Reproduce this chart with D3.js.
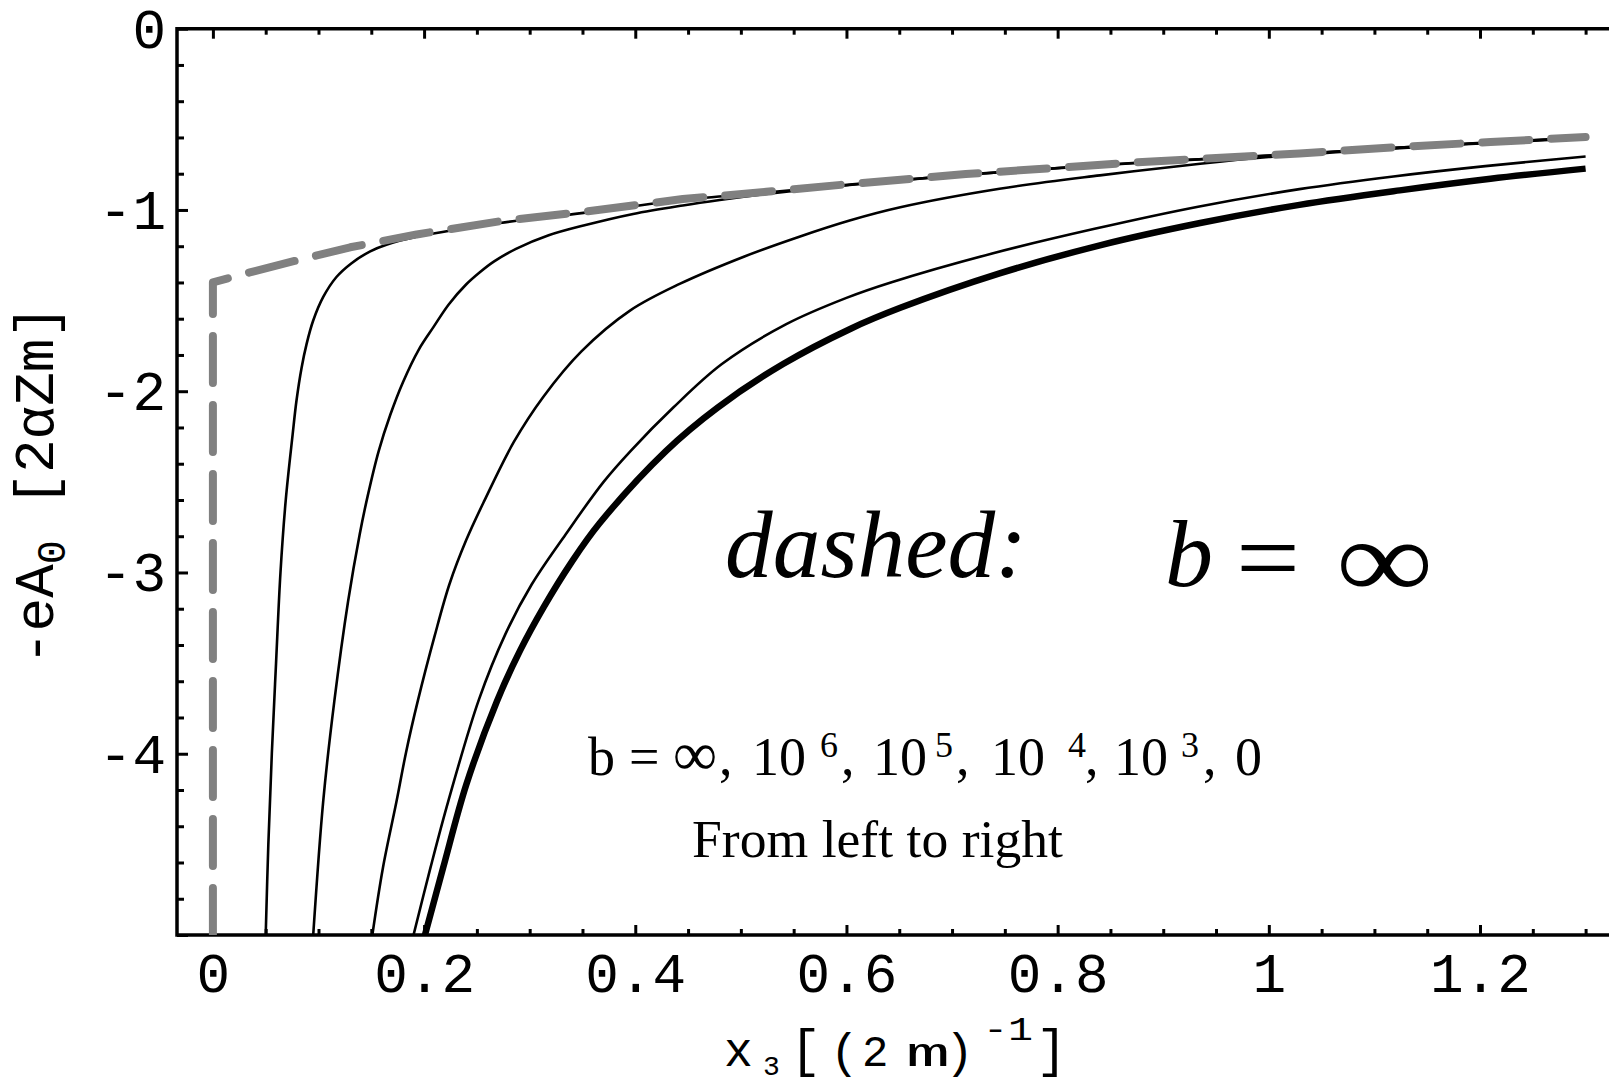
<!DOCTYPE html>
<html lang="en">
<head>
<meta charset="UTF-8">
<title>-eA0 vs x3</title>
<script src="https://d3js.org/d3.v7.min.js"></script>
<style>
  body { margin: 0; background: #fff; }
  svg { display: block; background: #fff; }
  .mono { font-family: "Liberation Mono", "Courier New", monospace; fill: #000; }
  .serif { font-family: "Liberation Serif", "Times New Roman", serif; fill: #000; }
</style>
</head>
<body>
<svg id="chart" width="1609" height="1084"></svg>
<script>
// tick values and labels
const xMajor = [0, 0.2, 0.4, 0.6, 0.8, 1, 1.2];
const xMajorLabels = ["0", "0.2", "0.4", "0.6", "0.8", "1", "1.2"];
const xMinor = [0.05, 0.1, 0.15, 0.25, 0.3, 0.35, 0.45, 0.5, 0.55, 0.65, 0.7, 0.75,
                0.85, 0.9, 0.95, 1.05, 1.1, 1.15, 1.25, 1.3];
const yMajor = [0, -1, -2, -3, -4, -5];
const yMajorLabels = ["0", "-1", "-2", "-3", "-4", ""];
const yMinor = [-0.2, -0.4, -0.6, -0.8, -1.2, -1.4, -1.6, -1.8, -2.2, -2.4, -2.6, -2.8,
                -3.2, -3.4, -3.6, -3.8, -4.2, -4.4, -4.6, -4.8];

// curves, [x3, -eA0]
const curveInf = [[0, -5], [0, -1.40], [0.035, -1.344], [0.079, -1.279], [0.13, -1.206],
  [0.193, -1.135], [0.272, -1.062], [0.351, -1.010], [0.445, -0.940], [0.524, -0.900],
  [0.603, -0.857], [0.713, -0.802], [0.871, -0.738], [1.029, -0.688], [1.124, -0.652],
  [1.21, -0.625], [1.30, -0.598]];
const curve1e6 = [[0.050, -5.0], [0.0525, -4.5], [0.0558, -4.0], [0.0598, -3.5], [0.0640, -3.0],
  [0.0690, -2.6], [0.0755, -2.24], [0.0792, -2.05], [0.084, -1.87], [0.0887, -1.74],
  [0.095, -1.61], [0.1045, -1.48], [0.117, -1.37], [0.131, -1.295], [0.149, -1.228],
  [0.165, -1.19], [0.193, -1.148], [0.272, -1.072], [0.351, -1.016], [0.445, -0.945],
  [0.524, -0.904], [0.603, -0.86], [0.713, -0.805], [0.871, -0.741], [1.029, -0.69],
  [1.124, -0.655], [1.21, -0.627], [1.30, -0.600]];
const curve1e5 = [[0.095, -5.0], [0.1045, -4.26], [0.1150, -3.71], [0.128, -3.16], [0.139, -2.79],
  [0.1465, -2.58], [0.157, -2.33], [0.168, -2.13], [0.180, -1.95], [0.195, -1.77],
  [0.209, -1.645], [0.2235, -1.52], [0.240, -1.41], [0.2525, -1.345], [0.266, -1.285],
  [0.287, -1.215], [0.318, -1.14], [0.351, -1.086], [0.398, -1.022], [0.445, -0.975],
  [0.48, -0.945], [0.524, -0.912], [0.603, -0.862], [0.713, -0.806], [0.871, -0.742],
  [1.029, -0.691], [1.124, -0.656], [1.21, -0.628], [1.30, -0.601]];
const curve1e4 = [[0.151, -5.0], [0.161, -4.63], [0.174, -4.26], [0.183, -3.99], [0.194, -3.71],
  [0.210, -3.35], [0.224, -3.065], [0.240, -2.82], [0.257, -2.605], [0.285, -2.28],
  [0.313, -2.03], [0.349, -1.78], [0.395, -1.555], [0.442, -1.408], [0.504, -1.255],
  [0.554, -1.15], [0.603, -1.058], [0.651, -0.985], [0.745, -0.883], [0.840, -0.809],
  [0.935, -0.745], [1.0, -0.708], [1.06, -0.683], [1.124, -0.659], [1.21, -0.630], [1.30, -0.603]];
const curve1e3 = [[0.190, -5.0], [0.206, -4.63], [0.223, -4.26], [0.252, -3.70], [0.277, -3.34],
  [0.302, -3.065], [0.334, -2.79], [0.370, -2.50], [0.3955, -2.33], [0.436, -2.09],
  [0.482, -1.85], [0.543, -1.63], [0.600, -1.485], [0.642, -1.40], [0.738, -1.24],
  [0.835, -1.104], [0.933, -0.982], [1.029, -0.885], [1.118, -0.815], [1.205, -0.758], [1.30, -0.705]];
const curve0 = [[0.2008, -5.0], [0.218, -4.63], [0.240, -4.17], [0.269, -3.71], [0.291, -3.43],
  [0.313, -3.194], [0.340, -2.94], [0.366, -2.73], [0.429, -2.33], [0.478, -2.09],
  [0.540, -1.85], [0.604, -1.655], [0.651, -1.54], [0.745, -1.35], [0.840, -1.195],
  [0.935, -1.072], [1.029, -0.972], [1.124, -0.892], [1.21, -0.828], [1.30, -0.772]];

const svg = d3.select("#chart");
const plotLeft = 177, plotTop = 28.7, plotBottom = 935, plotRight = 1612;

const x = d3.scaleLinear().domain([-0.034, 1.325]).range([plotLeft, plotRight]);
const y = d3.scaleLinear().domain([-5, 0]).range([plotBottom, plotTop]);

svg.append("clipPath").attr("id", "plot-clip")
  .append("rect")
  .attr("x", plotLeft).attr("y", plotTop)
  .attr("width", plotRight - plotLeft).attr("height", plotBottom - plotTop);

// axes: ticks point inward, like a Mathematica frame
function styleAxis(g) {
  g.select(".domain").remove();
  g.selectAll(".tick line").attr("stroke", "#000").attr("stroke-width", 3);
}

svg.append("g")
  .attr("transform", `translate(0,${plotBottom})`)
  .call(d3.axisBottom(x).tickValues(xMajor).tickSize(-10).tickFormat((d, i) => xMajorLabels[i]))
  .call(styleAxis)
  .call(g => g.selectAll(".tick text")
    .attr("class", "mono")
    .attr("font-size", 56)
    .attr("y", 57).attr("dy", null));

svg.append("g")
  .attr("transform", `translate(0,${plotBottom})`)
  .call(d3.axisBottom(x).tickValues(xMinor).tickSize(-6).tickFormat(""))
  .call(styleAxis);

svg.append("g")
  .attr("transform", `translate(0,${plotTop})`)
  .call(d3.axisTop(x).tickValues(xMajor).tickSize(-10).tickFormat(""))
  .call(styleAxis);

svg.append("g")
  .attr("transform", `translate(0,${plotTop})`)
  .call(d3.axisTop(x).tickValues(xMinor).tickSize(-6).tickFormat(""))
  .call(styleAxis);

svg.append("g")
  .attr("transform", `translate(${plotLeft},0)`)
  .call(d3.axisLeft(y).tickValues(yMajor).tickSize(-11).tickPadding(11).tickFormat((d, i) => yMajorLabels[i]))
  .call(styleAxis)
  .call(g => g.selectAll(".tick text")
    .attr("class", "mono")
    .attr("font-size", 56)
    .attr("dy", "0.33em"));

svg.append("g")
  .attr("transform", `translate(${plotLeft},0)`)
  .call(d3.axisLeft(y).tickValues(yMinor).tickSize(-7).tickFormat(""))
  .call(styleAxis);

// frame (right side lies past the picture edge)
svg.append("path")
  .attr("d", `M${plotRight},${plotTop}H${plotLeft}V${plotBottom}H${plotRight}`)
  .attr("fill", "none")
  .attr("stroke", "#000")
  .attr("stroke-width", 3.5);

// curves
const line = d3.line()
  .x(d => x(d[0]))
  .y(d => y(d[1]))
  .curve(d3.curveCatmullRom.alpha(0.5));

const plot = svg.append("g").attr("clip-path", "url(#plot-clip)");

[curve1e6, curve1e5, curve1e4, curve1e3].forEach(c => {
  plot.append("path")
    .attr("d", line(c))
    .attr("fill", "none")
    .attr("stroke", "#000")
    .attr("stroke-width", 2.6);
});

plot.append("path")
  .attr("d", line(curve0))
  .attr("fill", "none")
  .attr("stroke", "#000")
  .attr("stroke-width", 6.5);

plot.append("path")
  .attr("d", d3.line().x(d => x(d[0])).y(d => y(d[1]))(curveInf))
  .attr("fill", "none")
  .attr("stroke", "#808080")
  .attr("stroke-width", 8)
  .attr("stroke-dasharray", "47,22")
  .attr("stroke-linecap", "round")
  .attr("stroke-linejoin", "round");

// y axis title
const yTitle = svg.append("text")
  .attr("class", "mono")
  .attr("font-size", 56)
  .attr("text-anchor", "middle")
  .attr("transform", "translate(53,485) rotate(-90)");
yTitle.append("tspan").text("-eA");
yTitle.append("tspan").attr("font-size", 40).attr("dy", 12).text("0");
yTitle.append("tspan").attr("dy", -12).text(" [2αZm]");

// x axis title
const xTitleParts = [
  { t: "x", x: 724, y: 1066, s: 48 },
  { t: "3", x: 763, y: 1075, s: 28 },
  { t: "[", x: 790, y: 1066, s: 52 },
  { t: "(", x: 830, y: 1067, s: 48 },
  { t: "2", x: 862, y: 1066, s: 44 },
  { t: "m", x: 906, y: 1066, s: 40, w: 44 },
  { t: ")", x: 945, y: 1067, s: 48 },
  { t: "-1", x: 983, y: 1040, s: 34, w: 50 },
  { t: "]", x: 1036, y: 1066, s: 52 }
];
svg.append("g").selectAll("text")
  .data(xTitleParts)
  .join("text")
  .attr("class", "mono")
  .attr("x", d => d.x).attr("y", d => d.y)
  .attr("font-size", d => d.s)
  .attr("textLength", d => d.w || null)
  .attr("lengthAdjust", d => d.w ? "spacingAndGlyphs" : null)
  .text(d => d.t);

// annotations
svg.append("text")
  .attr("class", "serif")
  .attr("x", 725).attr("y", 577)
  .attr("font-size", 96)
  .attr("font-style", "italic")
  .attr("textLength", 302).attr("lengthAdjust", "spacingAndGlyphs")
  .text("dashed:");

svg.append("text")
  .attr("class", "serif")
  .attr("x", 1165).attr("y", 586)
  .attr("font-size", 96)
  .attr("font-style", "italic")
  .text("b");
svg.append("text")
  .attr("class", "serif")
  .attr("x", 1236).attr("y", 593)
  .attr("font-size", 104)
  .attr("textLength", 64).attr("lengthAdjust", "spacingAndGlyphs")
  .text("=");
svg.append("text")
  .attr("class", "serif")
  .attr("x", 1336).attr("y", 598)
  .attr("font-size", 112)
  .attr("textLength", 97).attr("lengthAdjust", "spacingAndGlyphs")
  .text("∞");

const bLine = [
  { t: "b", x: 588, y: 775, s: 54 },
  { t: "=", x: 629, y: 775, s: 54 },
  { t: "∞", x: 673, y: 775, s: 62 },
  { t: ",", x: 719, y: 775, s: 54 },
  { t: "10", x: 752, y: 775, s: 54 },
  { t: "6", x: 820, y: 757, s: 36 },
  { t: ",", x: 841, y: 775, s: 54 },
  { t: "10", x: 873, y: 775, s: 54 },
  { t: "5", x: 935, y: 757, s: 36 },
  { t: ",", x: 956, y: 775, s: 54 },
  { t: "10", x: 991, y: 775, s: 54 },
  { t: "4", x: 1068, y: 757, s: 36 },
  { t: ",", x: 1085, y: 775, s: 54 },
  { t: "10", x: 1114, y: 775, s: 54 },
  { t: "3", x: 1181, y: 757, s: 36 },
  { t: ",", x: 1203, y: 775, s: 54 },
  { t: "0", x: 1235, y: 775, s: 54 }
];
svg.append("g").selectAll("text")
  .data(bLine)
  .join("text")
  .attr("class", "serif")
  .attr("x", d => d.x).attr("y", d => d.y)
  .attr("font-size", d => d.s)
  .text(d => d.t);

svg.append("text")
  .attr("class", "serif")
  .attr("x", 692).attr("y", 857)
  .attr("font-size", 53)
  .attr("textLength", 371).attr("lengthAdjust", "spacingAndGlyphs")
  .text("From left to right");
</script>
</body>
</html>
